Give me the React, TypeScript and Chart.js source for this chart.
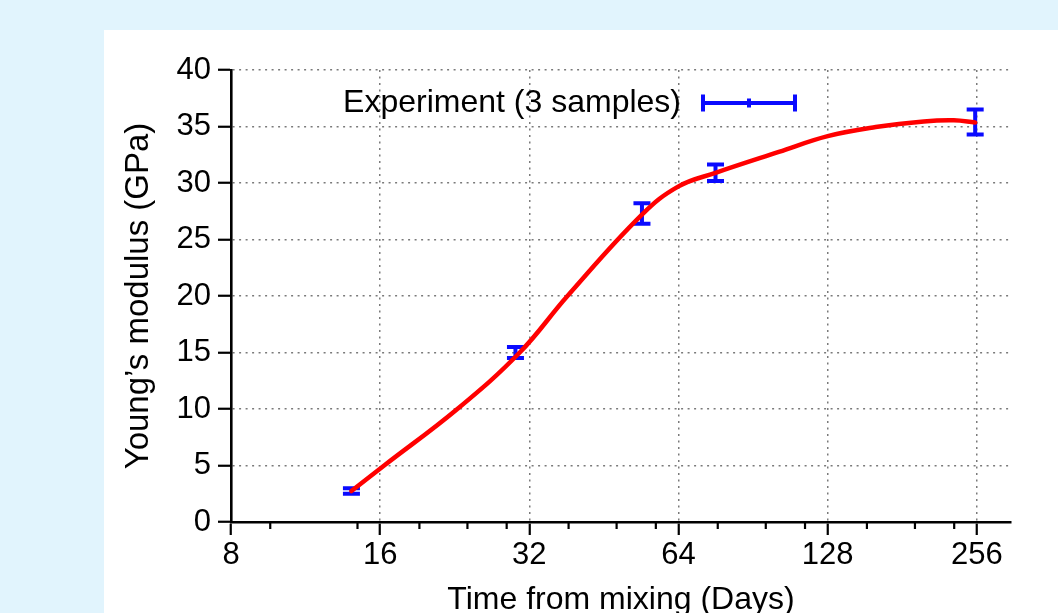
import React, { useEffect, useRef } from "react";
import { Chart, registerables } from "chart.js";

Chart.register(...registerables);

// ---- data ----
const X_TICKS = [8, 16, 32, 64, 128, 256];
const X_MINOR_TICKS = [9.6, 14.4, 19.2, 24, 28.8, 38.4, 48, 57.6, 76.8, 96, 115.2, 153.6, 192, 230.4];
const Y_TICKS = [0, 5, 10, 15, 20, 25, 30, 35, 40];

const EXP_DAYS = [14, 30, 54, 76, 254];
const EXP_MODULUS = [2.74, 15.0, 27.3, 30.9, 35.4];
const EXP_ERROR = [0.25, 0.49, 0.9, 0.73, 1.1];

const FIT_DAYS = [14, 16.3, 22.9, 30.6, 38.2, 54, 64, 76, 102, 128, 160, 200, 230, 254];
const FIT_MODULUS = [2.74, 5, 10, 15, 20, 27.2, 29.7, 30.9, 32.75, 34.15, 34.95, 35.45, 35.55, 35.35];

const X_TITLE = "Time from mixing (Days)";
const Y_TITLE = "Young\u2019s modulus (GPa)";
const LEGEND_LABEL = "Experiment (3 samples)";

// ---- styles ----
const FONT = "'Liberation Sans', Arial, Helvetica, sans-serif";
const ERR_COLOR = "#0a0aff";
const FIT_COLOR = "#ff0000";
const GRID_COLOR = "#7a7a7a";

export default function App() {
  const ref = useRef<HTMLCanvasElement>(null);

  useEffect(() => {
    const canvas = ref.current;
    if (!canvas) return;

    const bgPlugin = {
      id: "bgPanels",
      beforeDraw(chart: any) {
        const { ctx, width, height } = chart;
        ctx.save();
        ctx.fillStyle = "#e1f4fd";
        ctx.fillRect(0, 0, width, height);
        ctx.fillStyle = "#ffffff";
        ctx.fillRect(104, 30, width - 104, height - 30);
        ctx.restore();
      },
    };

    const CAP = 8.5;
    const ERR_WIDTH = 4;
    const errorBarPlugin = {
      id: "errorBars",
      beforeDatasetsDraw(chart: any) {
        const { ctx } = chart;
        const xs = chart.scales.x;
        const ys = chart.scales.y;
        ctx.save();
        ctx.strokeStyle = ERR_COLOR;
        ctx.lineWidth = ERR_WIDTH;
        EXP_DAYS.forEach((d, i) => {
          const px = xs.getPixelForValue(d);
          const pTop = ys.getPixelForValue(EXP_MODULUS[i] + EXP_ERROR[i]);
          const pBot = ys.getPixelForValue(EXP_MODULUS[i] - EXP_ERROR[i]);
          ctx.beginPath();
          ctx.moveTo(px, pTop);
          ctx.lineTo(px, pBot);
          ctx.moveTo(px - CAP, pTop);
          ctx.lineTo(px + CAP, pTop);
          ctx.moveTo(px - CAP, pBot);
          ctx.lineTo(px + CAP, pBot);
          ctx.stroke();
        });
        ctx.restore();
      },
    };

    const minorTickPlugin = {
      id: "minorTicks",
      afterDraw(chart: any) {
        const { ctx, chartArea } = chart;
        const xs = chart.scales.x;
        ctx.save();
        ctx.strokeStyle = "#000";
        ctx.lineWidth = 2.2;
        X_MINOR_TICKS.forEach((v) => {
          const px = xs.getPixelForValue(v);
          ctx.beginPath();
          ctx.moveTo(px, chartArea.bottom);
          ctx.lineTo(px, chartArea.bottom + 7);
          ctx.stroke();
        });
        ctx.restore();
      },
    };

    const legendPlugin = {
      id: "customLegend",
      afterDraw(chart: any) {
        const { ctx, chartArea } = chart;
        const cy = chartArea.top + 33;
        const textRight = chartArea.left + 450;
        const x1 = chartArea.left + 472;
        const x2 = chartArea.left + 564;
        ctx.save();
        ctx.font = `32px ${FONT}`;
        ctx.fillStyle = "#000";
        ctx.textAlign = "right";
        ctx.textBaseline = "middle";
        ctx.fillText(LEGEND_LABEL, textRight, cy);
        ctx.strokeStyle = ERR_COLOR;
        ctx.lineWidth = ERR_WIDTH;
        ctx.beginPath();
        ctx.moveTo(x1, cy);
        ctx.lineTo(x2, cy);
        ctx.moveTo(x1, cy - 8.5);
        ctx.lineTo(x1, cy + 8.5);
        ctx.moveTo(x2, cy - 8.5);
        ctx.lineTo(x2, cy + 8.5);
        const xm = (x1 + x2) / 2;
        ctx.moveTo(xm, cy - 4.5);
        ctx.lineTo(xm, cy + 4.5);
        ctx.stroke();
        ctx.restore();
      },
    };

    const chart = new Chart(canvas, {
      type: "scatter",
      data: {
        datasets: [
          {
            label: "Fit",
            data: FIT_DAYS.map((d, i) => ({ x: d, y: FIT_MODULUS[i] })),
            showLine: true,
            borderColor: FIT_COLOR,
            backgroundColor: FIT_COLOR,
            borderWidth: 4.5,
            pointRadius: 0,
            pointHoverRadius: 0,
            tension: 0.4,
            borderCapStyle: "round",
            borderJoinStyle: "round",
            fill: false,
          } as any,
        ],
      },
      options: {
        responsive: false,
        animation: false,
        devicePixelRatio: 1,
        events: [],
        layout: { padding: { top: 70, right: 47, left: 0, bottom: 0 } },
        plugins: {
          legend: { display: false },
          tooltip: { enabled: false },
        },
        scales: {
          x: {
            type: "logarithmic",
            min: 8,
            max: 300,
            afterBuildTicks: (s: any) => {
              s.ticks = X_TICKS.map((v) => ({ value: v }));
            },
            afterFit: (s: any) => {
              s.height = 91;
            },
            ticks: {
              callback: (v: any) => String(v),
              font: { family: FONT, size: 31 },
              color: "#000",
              padding: 2,
              maxRotation: 0,
              autoSkip: false,
            },
            grid: {
              color: GRID_COLOR,
              lineWidth: 1.5,
              drawTicks: true,
              tickLength: 13,
              tickColor: "#000",
              tickWidth: 2.2,
              tickBorderDash: [],
            },
            border: { display: true, color: "#000", width: 2.6, dash: [2, 4.5] },
            title: {
              display: true,
              text: X_TITLE,
              font: { family: FONT, size: 32 },
              color: "#000",
              padding: { top: 0, bottom: -6.6 },
            },
          },
          y: {
            type: "linear",
            min: 0,
            max: 40,
            afterBuildTicks: (s: any) => {
              s.ticks = Y_TICKS.map((v) => ({ value: v }));
            },
            afterFit: (s: any) => {
              s.width = 231;
            },
            ticks: {
              callback: (v: any) => String(v),
              font: { family: FONT, size: 31 },
              color: "#000",
              padding: 7,
            },
            grid: {
              color: GRID_COLOR,
              lineWidth: 1.5,
              drawTicks: true,
              tickLength: 13,
              tickColor: "#000",
              tickWidth: 2.2,
              tickBorderDash: [],
            },
            border: { display: true, color: "#000", width: 2.6, dash: [2, 4.5] },
            title: {
              display: true,
              text: Y_TITLE,
              font: { family: FONT, size: 33 },
              color: "#000",
              padding: { top: 118.7, bottom: 0 },
            },
          },
        },
      } as any,
      plugins: [bgPlugin, errorBarPlugin, minorTickPlugin, legendPlugin],
    });

    return () => chart.destroy();
  }, []);

  return (
    <div style={{ position: "fixed", left: 0, top: 0, width: 1058, height: 613 }}>
      <canvas ref={ref} width={1058} height={613} style={{ display: "block" }} />
    </div>
  );
}
